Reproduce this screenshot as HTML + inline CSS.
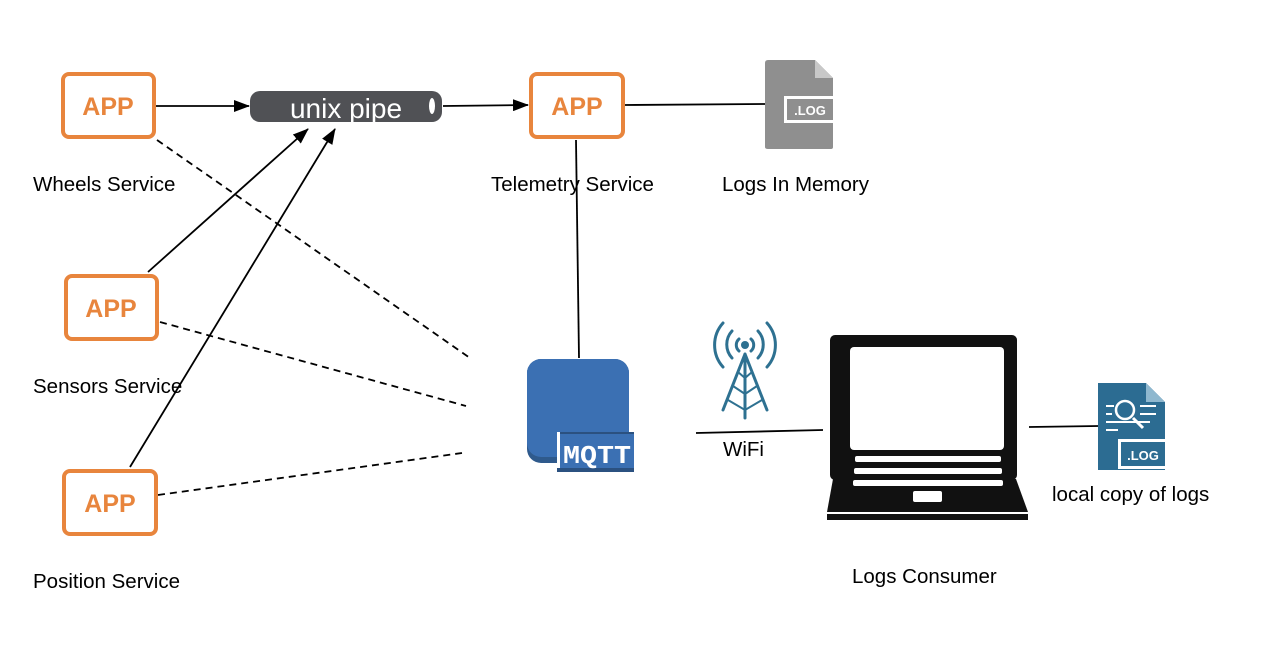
<!DOCTYPE html>
<html><head><meta charset="utf-8"><style>
html,body{margin:0;padding:0;background:#fff;width:1280px;height:650px;overflow:hidden}
svg text{font-family:"Liberation Sans",Arial,sans-serif}
</style></head><body>
<svg width="1280" height="650" viewBox="0 0 1280 650" xmlns="http://www.w3.org/2000/svg">
<defs>
<marker id="ah" markerWidth="16" markerHeight="12" refX="15" refY="6" orient="auto" markerUnits="userSpaceOnUse" viewBox="0 0 16 12">
<path d="M0,0 L16,6 L0,12 z" fill="#000"/></marker>
</defs>
<g stroke="#000" stroke-width="1.8" fill="none">
<line x1="156" y1="106" x2="249" y2="106" marker-end="url(#ah)"/>
<line x1="443" y1="106" x2="528" y2="105" marker-end="url(#ah)"/>
<line x1="148" y1="272" x2="308" y2="129" marker-end="url(#ah)"/>
<line x1="130" y1="467" x2="335" y2="129" marker-end="url(#ah)"/>
<line x1="624" y1="105" x2="765" y2="104"/>
<line x1="576" y1="140" x2="579" y2="358"/>
<line x1="696" y1="433" x2="823" y2="430"/>
<line x1="1029" y1="427" x2="1099" y2="426"/>
<g stroke-dasharray="7,5">
<line x1="157" y1="140" x2="470" y2="358"/>
<line x1="160" y1="322" x2="466" y2="406"/>
<line x1="158" y1="495" x2="462" y2="453"/>
</g>
</g>
<g fill="#fff" stroke="#e8853d" stroke-width="4">
<rect x="63" y="74" width="91" height="63" rx="6"/>
<rect x="66" y="276" width="91" height="63" rx="6"/>
<rect x="64" y="471" width="92" height="63" rx="6"/>
<rect x="531" y="74" width="92" height="63" rx="6"/>
</g>
<g fill="#e8853d" font-weight="bold" font-size="25" text-anchor="middle">
<text x="108" y="115">APP</text>
<text x="111" y="317">APP</text>
<text x="110" y="512">APP</text>
<text x="577" y="115">APP</text>
</g>
<rect x="250" y="91" width="192" height="31" rx="10" fill="#505155"/>
<ellipse cx="432" cy="106" rx="3" ry="8" fill="#fff"/>
<text x="346" y="118" fill="#fff" font-size="28" text-anchor="middle">unix pipe</text>
<path d="M768,60 H815 L833,78 V147 Q833,149 831,149 H768 Q765,149 765,147 V63 Q765,60 768,60z" fill="#8f8f8f"/>
<path d="M815,60 V78 H833z" fill="#c8c8c8"/>
<rect x="784" y="96" width="51" height="27" fill="#fff"/>
<rect x="787" y="99" width="46" height="21" fill="#8f8f8f"/>
<text x="810" y="115" fill="#fff" font-size="13" font-weight="bold" text-anchor="middle">.LOG</text>
<rect x="527" y="359" width="102" height="104" rx="14" fill="#2f5a8c"/>
<rect x="527" y="359" width="102" height="98" rx="14" fill="#3b70b3"/>
<rect x="557" y="432" width="77" height="40" fill="#2b5180"/>
<rect x="560" y="434" width="74" height="34" fill="#3b70b3"/>
<rect x="557" y="432" width="3" height="36" fill="#fff"/>
<text x="597" y="463" fill="#fff" font-size="26" font-weight="bold" style="font-family:'Liberation Mono',monospace" text-anchor="middle" textLength="68" lengthAdjust="spacingAndGlyphs">MQTT</text>
<g stroke="#2e7191" stroke-width="3" fill="none" stroke-linecap="round">
<path d="M723,323 A33,33 0 0 0 723,367"/>
<path d="M767,323 A33,33 0 0 1 767,367"/>
<path d="M732,331 A20,20 0 0 0 732,358"/>
<path d="M758,331 A20,20 0 0 1 758,358"/>
<path d="M739,339 A8,8 0 0 0 739,351"/>
<path d="M751,339 A8,8 0 0 1 751,351"/>
<path d="M745,354 L723,410 M745,354 L767,410 M745,354 V418"/>
<path d="M738,372 L745,378 L752,372 M733,386 L745,394 L757,386 M728,400 L745,410 L762,400" stroke-width="2"/>
</g>
<circle cx="745" cy="345" r="4" fill="#2e7191"/>
<rect x="830" y="335" width="187" height="145" rx="5" fill="#111"/>
<rect x="850" y="347" width="154" height="103" rx="4" fill="#fff"/>
<path d="M833,479 H1016 L1028,512 H827z" fill="#111"/>
<rect x="827" y="514" width="201" height="6" fill="#111"/>
<rect x="855" y="456" width="146" height="6" rx="2" fill="#fff"/>
<rect x="854" y="468" width="148" height="6" rx="2" fill="#fff"/>
<rect x="853" y="480" width="150" height="6" rx="2" fill="#fff"/>
<rect x="913" y="491" width="29" height="11" rx="2" fill="#fff"/>
<path d="M1098,383 H1146 L1165,402 V470 H1098z" fill="#2c6c92"/>
<path d="M1146,383 V402 H1165z" fill="#8fb8cf"/>
<rect x="1118" y="439" width="50" height="30" fill="#fff"/>
<rect x="1121" y="442" width="44" height="24" fill="#2c6c92"/>
<text x="1143" y="460" fill="#fff" font-size="13" font-weight="bold" text-anchor="middle">.LOG</text>
<g stroke="#fff" stroke-width="2">
<line x1="1106" y1="406" x2="1114" y2="406"/><line x1="1106" y1="414" x2="1112" y2="414"/>
<line x1="1106" y1="422" x2="1150" y2="422"/><line x1="1140" y1="406" x2="1156" y2="406"/>
<line x1="1140" y1="414" x2="1156" y2="414"/><line x1="1106" y1="430" x2="1118" y2="430"/>
<line x1="1133" y1="418" x2="1143" y2="428" stroke-width="3"/>
</g>
<circle cx="1125" cy="410" r="9" fill="none" stroke="#fff" stroke-width="2.5"/>
<g font-size="20.5" fill="#000">
<text x="33" y="191">Wheels Service</text>
<text x="33" y="393">Sensors Service</text>
<text x="33" y="588">Position Service</text>
<text x="491" y="191">Telemetry Service</text>
<text x="722" y="191">Logs In Memory</text>
<text x="723" y="456">WiFi</text>
<text x="1052" y="501">local copy of logs</text>
<text x="852" y="583">Logs Consumer</text>
</g>
</svg>
</body></html>
